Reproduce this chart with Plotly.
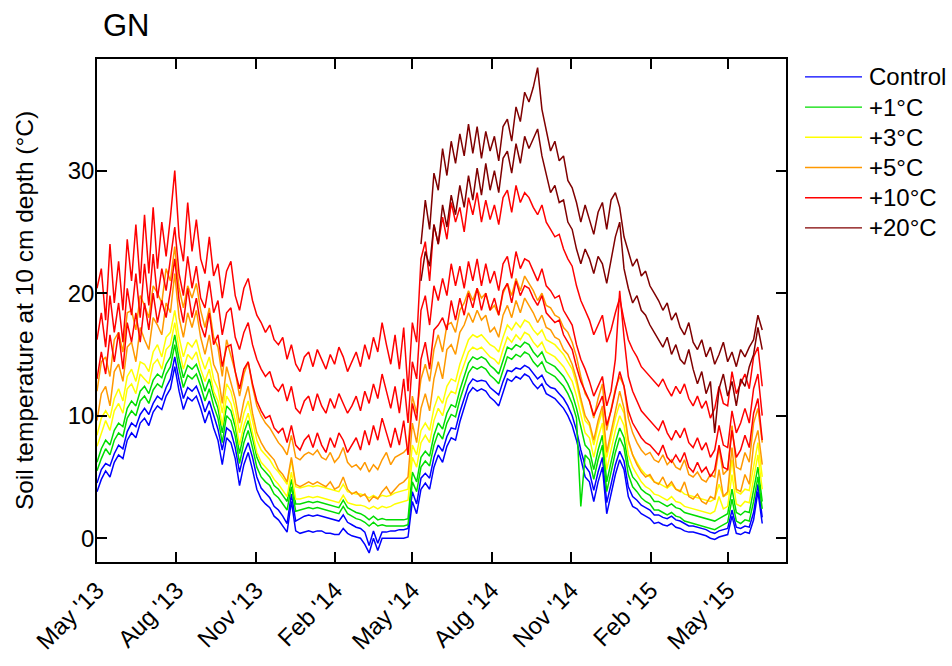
import pandas as pd
import plotly.graph_objects as go

# ---- time axis: one reading every 5 days ----
START_DATE = "2013-05-01"
STEP = "5D"
N_POINTS = 155

TICK_DATES = ["2013-05-01", "2013-08-01", "2013-11-01", "2014-02-01", "2014-05-01",
              "2014-08-01", "2014-11-01", "2015-02-01", "2015-05-01"]
TICK_TEXT = ["May '13", "Aug '13", "Nov '13", "Feb '14", "May '14",
             "Aug '14", "Nov '14", "Feb '15", "May '15"]
Y_TICKS = [0, 10, 20, 30]

# ---- soil temperature (°C) ----
control_a = [
    3.8, 4.8, 5.5, 5.0, 6.2, 6.8, 6.5, 8.0, 8.6, 8.2,
    9.4, 9.8, 9.2, 10.3, 10.8, 10.5, 11.6, 12.2, 14.0, 12.0,
    10.5, 11.5, 11.2, 11.6, 10.6, 9.4, 10.4, 9.0, 8.0, 6.0,
    8.2, 7.8, 6.5, 4.3, 6.0, 7.0, 5.6, 4.0, 3.2, 2.8,
    2.5, 1.8, 1.5, 1.0, 0.5, 3.0, 0.6, 0.4, 0.5, 0.6,
    0.5, 0.6, 0.6, 0.4, 0.4, 0.3, 0.3, 0.8, 0.4, 0.2,
    0.1, 0.0, -0.5, -1.2, 0.0, -1.0, 0.0, 0.0, 0.0, 0.0,
    0.0, 0.0, 0.1, 3.0, 2.0, 4.0, 4.5, 4.0, 5.8, 6.8,
    6.2, 7.5, 8.2, 8.0, 9.5, 10.6, 11.8, 12.3, 12.0, 12.2,
    12.0, 11.5, 11.2, 10.8, 12.0, 13.0, 12.8, 13.2, 13.0, 13.4,
    13.2, 12.6, 12.2, 12.6, 11.8, 11.6, 11.4, 11.0, 10.6, 10.0,
    9.2, 8.0, 6.4, 5.0, 4.6, 3.0, 4.6, 5.8, 2.0, 3.6,
    5.2, 6.4, 5.6, 3.4, 2.6, 2.4, 2.0, 1.8, 1.6, 1.2,
    1.3, 1.1, 1.0, 1.2, 0.9, 0.8, 0.6, 0.5, 0.5, 0.4,
    0.3, 0.2, 0.0, -0.1, 0.1, 0.2, 0.3, 1.8, 0.4, 0.3,
    0.5, 0.4, 1.5, 3.8, 1.2,
]
control_b = [
    4.5, 5.6, 6.1, 5.9, 6.9, 7.6, 7.3, 8.7, 9.4, 9.1,
    10.1, 10.6, 10.1, 11.0, 11.6, 11.3, 12.3, 13.0, 14.8, 12.9,
    11.4, 12.3, 12.0, 12.4, 11.5, 10.3, 11.2, 10.0, 8.9, 7.2,
    9.0, 8.7, 7.4, 5.4, 6.9, 7.8, 6.6, 5.0, 4.1, 3.7,
    3.3, 2.6, 2.3, 1.8, 1.2, 3.6, 1.4, 1.6, 1.8, 1.9,
    1.8, 1.9, 1.8, 1.7, 1.6, 1.5, 1.4, 1.9, 1.3, 1.1,
    0.9, 0.8, 0.5, -0.6, 0.6, -0.4, 0.5, 0.5, 0.6, 0.6,
    0.7, 0.7, 0.8, 3.8, 2.8, 4.9, 5.3, 4.9, 6.6, 7.6,
    7.1, 8.3, 9.0, 8.9, 10.3, 11.4, 12.5, 13.0, 12.8, 12.9,
    12.8, 12.3, 12.0, 11.7, 12.8, 13.7, 13.6, 13.9, 13.8, 14.1,
    13.9, 13.4, 13.0, 13.3, 12.6, 12.3, 12.2, 11.8, 11.4, 10.8,
    10.0, 8.8, 7.2, 5.9, 5.4, 3.9, 5.4, 6.6, 2.9, 4.4,
    6.0, 7.1, 6.3, 4.2, 3.4, 3.1, 2.7, 2.5, 2.3, 1.9,
    1.9, 1.7, 1.6, 1.8, 1.5, 1.4, 1.2, 1.0, 1.0, 0.9,
    0.8, 0.7, 0.5, 0.4, 0.6, 0.7, 0.8, 2.3, 0.9, 0.8,
    1.0, 0.9, 2.1, 4.4, 1.7,
]
plus1_a = [
    5.5, 6.5, 7.3, 6.8, 8.0, 8.6, 8.3, 9.8, 10.4, 10.0,
    11.2, 11.6, 11.0, 12.1, 12.6, 12.3, 13.4, 14.0, 15.8, 13.8,
    12.3, 13.3, 13.0, 13.4, 12.4, 11.2, 12.2, 10.8, 9.8, 7.8,
    10.0, 9.6, 8.3, 6.1, 7.8, 8.8, 7.4, 5.8, 5.0, 4.6,
    4.3, 3.6, 3.3, 2.8, 2.3, 4.2, 2.2, 2.3, 2.4, 2.5,
    2.4, 2.5, 2.4, 2.3, 2.2, 2.1, 2.0, 2.6, 2.0, 1.8,
    1.6, 1.5, 1.3, 1.0, 1.3, 1.0, 1.1, 1.0, 1.0, 1.0,
    1.0, 1.0, 1.1, 4.6, 3.8, 5.8, 6.3, 5.9, 7.6, 8.6,
    8.1, 9.4, 10.1, 9.9, 11.3, 12.4, 13.5, 14.0, 13.8, 14.0,
    13.8, 13.3, 13.0, 12.6, 13.8, 14.8, 14.6, 15.0, 14.8, 15.2,
    15.0, 14.4, 14.0, 14.4, 13.6, 13.4, 13.2, 12.8, 12.4, 11.8,
    11.0, 9.8, 2.6, 6.8, 6.4, 4.8, 6.4, 7.6, 3.8, 5.4,
    7.0, 8.2, 7.4, 5.2, 4.2, 3.8, 3.3, 3.0, 2.8, 2.3,
    2.3, 2.1, 1.9, 2.1, 1.8, 1.7, 1.4, 1.3, 1.2, 1.1,
    1.0, 0.9, 0.8, 0.7, 0.9, 1.1, 1.3, 3.2, 1.4, 1.2,
    1.5, 1.4, 3.0, 5.0, 2.4,
]
plus1_b = [
    6.2, 7.3, 8.0, 7.6, 8.8, 9.4, 9.1, 10.6, 11.2, 10.8,
    12.0, 12.4, 11.8, 12.9, 13.4, 13.1, 14.2, 14.8, 16.6, 14.6,
    13.1, 14.1, 13.8, 14.2, 13.2, 12.0, 13.0, 11.6, 10.6, 8.6,
    10.8, 10.4, 9.1, 6.9, 8.6, 9.6, 8.2, 6.6, 5.8, 5.4,
    5.0, 4.3, 4.0, 3.5, 3.0, 4.8, 2.8, 2.8, 2.9, 3.0,
    2.9, 3.0, 2.9, 2.8, 2.7, 2.6, 2.5, 3.1, 2.5, 2.3,
    2.1, 2.0, 1.8, 1.5, 1.8, 1.5, 1.6, 1.5, 1.5, 1.5,
    1.5, 1.5, 1.6, 5.4, 4.6, 6.6, 7.1, 6.7, 8.4, 9.4,
    8.9, 10.2, 10.9, 10.7, 12.1, 13.2, 14.3, 14.8, 14.6, 14.8,
    14.6, 14.1, 13.8, 13.4, 14.6, 15.6, 15.4, 15.8, 15.6, 16.0,
    15.8, 15.2, 14.8, 15.2, 14.4, 14.2, 14.0, 13.6, 13.2, 12.6,
    11.8, 10.6, 9.0, 7.6, 7.2, 5.6, 7.2, 8.4, 4.6, 6.2,
    7.8, 9.0, 8.2, 6.0, 5.0, 4.6, 4.0, 3.7, 3.5, 3.0,
    3.0, 2.8, 2.6, 2.8, 2.5, 2.4, 2.1, 2.0, 1.9, 1.8,
    1.7, 1.6, 1.5, 1.4, 1.6, 1.8, 2.0, 4.0, 2.1, 1.9,
    2.2, 2.1, 3.8, 5.8, 3.0,
]
plus3_a = [
    7.5, 8.6, 9.6, 8.8, 10.4, 11.0, 10.2, 12.2, 12.6, 11.8,
    13.4, 13.0, 12.6, 14.2, 14.6, 13.8, 15.4, 15.8, 17.6, 15.4,
    13.8, 15.0, 14.6, 15.2, 13.8, 12.8, 13.8, 12.0, 11.2, 9.2,
    11.6, 11.0, 9.6, 7.6, 9.2, 10.2, 8.6, 7.0, 6.2, 5.8,
    5.4, 4.8, 4.4, 3.9, 3.4, 5.4, 3.2, 3.2, 3.3, 3.4,
    3.3, 3.4, 3.3, 3.2, 3.1, 3.0, 2.9, 3.5, 2.9, 2.8,
    2.7, 2.7, 2.6, 2.4, 2.6, 2.4, 2.6, 2.5, 2.6, 2.8,
    2.9, 3.0, 3.1, 6.6, 5.8, 7.8, 8.4, 7.8, 9.6, 10.6,
    10.0, 11.4, 12.0, 11.8, 13.2, 14.2, 15.2, 15.6, 15.4, 15.6,
    15.2, 14.8, 14.6, 14.2, 15.4, 16.4, 16.0, 16.6, 16.2, 16.8,
    16.6, 16.0, 15.6, 16.0, 15.2, 15.0, 14.8, 14.4, 14.0, 13.4,
    12.8, 11.6, 10.0, 8.6, 8.2, 6.6, 8.2, 9.4, 5.6, 7.2,
    8.8, 10.0, 9.2, 6.8, 5.8, 5.2, 4.6, 4.2, 4.0, 3.6,
    3.5, 3.3, 3.1, 3.4, 3.0, 2.9, 2.6, 2.5, 2.4, 2.3,
    2.2, 2.1, 2.0, 2.2, 3.4, 2.4, 2.6, 5.2, 2.8, 2.6,
    3.0, 2.9, 5.0, 6.8, 4.0,
]
plus3_b = [
    8.4, 9.8, 10.4, 9.8, 11.4, 12.2, 11.2, 13.2, 13.8, 12.8,
    14.4, 14.2, 13.6, 15.2, 15.8, 14.8, 16.4, 16.8, 18.6, 16.4,
    14.8, 16.0, 15.6, 16.2, 14.8, 13.8, 14.8, 13.0, 12.2, 10.2,
    12.6, 12.0, 10.6, 8.6, 10.2, 11.2, 9.6, 8.0, 7.2, 6.8,
    6.4, 5.8, 5.4, 4.9, 4.4, 6.4, 4.2, 4.1, 4.2, 4.3,
    4.2, 4.3, 4.2, 4.1, 4.0, 3.9, 3.8, 4.4, 3.8, 3.7,
    3.6, 3.6, 3.5, 3.3, 3.5, 3.3, 3.5, 3.4, 3.5, 3.7,
    3.8, 3.9, 4.0, 7.6, 6.8, 8.8, 9.4, 8.8, 10.6, 11.6,
    11.0, 12.4, 13.0, 12.8, 14.2, 15.2, 16.2, 16.6, 16.4, 16.6,
    16.2, 15.8, 15.6, 15.2, 16.4, 17.4, 17.0, 17.6, 17.2, 17.8,
    17.6, 17.0, 16.6, 17.0, 16.2, 16.0, 15.8, 15.4, 15.0, 14.4,
    13.8, 12.6, 11.0, 9.6, 9.2, 7.6, 9.2, 10.4, 6.6, 8.2,
    9.8, 11.0, 10.2, 7.8, 6.8, 6.2, 5.6, 5.2, 5.0, 4.6,
    4.5, 4.3, 4.1, 4.4, 4.0, 3.9, 3.6, 3.5, 3.4, 3.3,
    3.2, 3.1, 3.0, 3.2, 4.4, 3.4, 3.6, 6.4, 3.8, 3.6,
    4.0, 3.9, 6.0, 7.8, 5.0,
]
plus5_a = [
    9.6, 11.8, 12.4, 10.8, 13.6, 14.2, 12.8, 15.6, 16.0, 14.4,
    17.2, 16.2, 15.4, 18.0, 17.4, 16.6, 19.2, 18.4, 21.6, 18.0,
    16.4, 18.4, 17.2, 18.6, 16.4, 15.0, 16.6, 14.2, 13.4, 11.0,
    14.0, 12.8, 11.4, 9.4, 11.2, 12.4, 10.2, 8.6, 7.8, 7.2,
    6.8, 6.4, 5.6, 5.2, 4.6, 6.6, 4.4, 4.2, 4.4, 4.6,
    4.4, 4.6, 4.4, 4.2, 4.6, 4.0, 4.2, 5.0, 4.0, 3.6,
    3.8, 3.4, 3.6, 3.0, 3.4, 3.2, 3.8, 4.2, 3.6, 4.0,
    4.4, 4.6, 5.0, 9.4, 7.8, 10.6, 11.8, 10.4, 13.0, 14.4,
    13.0, 15.4, 15.8, 15.0, 16.8, 17.4, 18.4, 17.6, 18.6, 17.8,
    18.2, 16.8, 17.2, 16.4, 18.2, 19.0, 18.0, 19.4, 18.4, 19.6,
    19.0, 18.4, 17.6, 18.2, 17.2, 17.0, 16.4, 16.2, 15.4, 15.0,
    14.2, 13.0, 11.4, 10.0, 9.4, 8.0, 9.6, 10.8, 7.0, 8.6,
    10.4, 12.0, 10.6, 8.0, 6.8, 6.0, 5.4, 5.0, 5.2, 4.6,
    4.4, 5.0, 4.2, 4.6, 4.0, 3.8, 4.6, 3.4, 3.2, 3.6,
    3.0, 2.8, 3.4, 3.2, 5.6, 3.4, 3.8, 7.4, 4.0, 3.8,
    5.2, 4.4, 7.6, 8.8, 6.0,
]
plus5_b = [
    12.0, 14.4, 14.8, 13.2, 16.2, 16.8, 15.2, 18.4, 18.6, 17.0,
    19.8, 19.0, 18.0, 20.6, 20.0, 19.2, 22.0, 21.0, 23.8, 20.4,
    18.8, 20.6, 19.6, 20.8, 18.6, 17.2, 18.8, 16.4, 15.6, 13.2,
    16.2, 15.0, 13.6, 11.6, 13.4, 14.4, 12.4, 10.8, 10.0, 9.4,
    9.0, 8.4, 7.8, 7.4, 6.8, 8.4, 6.6, 6.4, 6.8, 7.0,
    6.8, 7.2, 6.6, 6.4, 7.0, 6.2, 6.6, 7.4, 6.2, 5.8,
    6.0, 5.6, 6.2, 5.4, 6.0, 5.6, 6.4, 7.0, 6.0, 6.6,
    6.8, 7.0, 7.4, 11.6, 10.2, 13.0, 14.2, 12.8, 15.4, 16.6,
    15.2, 17.4, 17.6, 16.8, 18.6, 19.2, 20.2, 19.4, 20.4, 19.6,
    20.0, 18.6, 19.0, 18.2, 20.0, 20.8, 19.8, 21.2, 20.2, 21.4,
    20.8, 20.2, 19.4, 20.0, 19.0, 18.8, 18.2, 18.0, 17.2, 16.8,
    16.0, 14.8, 13.2, 11.8, 11.2, 9.8, 11.4, 12.6, 8.8, 10.4,
    12.2, 13.2, 12.4, 9.8, 8.6, 7.8, 7.2, 6.8, 7.0, 6.4,
    6.2, 6.8, 6.0, 6.4, 5.8, 5.6, 6.4, 5.2, 5.0, 5.4,
    4.8, 4.6, 5.2, 5.0, 7.4, 5.2, 5.6, 9.2, 5.8, 5.6,
    7.0, 6.2, 9.4, 10.6, 7.8,
]
plus10_a = [
    20.4, 22.0, 17.8, 24.0, 19.2, 22.6, 18.6, 24.4, 21.0, 25.6,
    20.8, 26.4, 21.6, 27.0, 22.0, 25.8, 23.0, 26.2, 30.0, 24.6,
    22.6, 27.4, 23.4, 26.0, 22.8, 21.6, 24.6, 21.4, 22.4, 19.6,
    21.8, 22.6, 19.8, 18.6, 20.4, 21.2, 19.4, 18.2, 17.6, 16.8,
    17.4, 16.2, 15.8, 16.4, 14.6, 15.8, 14.2, 13.6, 14.8, 15.2,
    14.0, 15.4, 14.6, 13.8, 15.0, 14.2, 15.6, 14.8, 13.6, 14.4,
    15.2, 14.0, 15.8, 14.6, 16.4, 15.2, 17.6, 15.8, 14.2, 16.6,
    13.8, 17.2, 12.0, 17.6, 16.0, 22.8, 24.2, 21.0, 25.6, 24.0,
    26.2, 24.4, 27.4, 25.8, 27.0, 25.0, 27.8, 26.4, 28.2, 25.8,
    27.6, 26.0, 27.2, 25.6, 27.8, 28.4, 26.6, 28.8, 27.4, 28.2,
    27.8, 27.0, 26.4, 27.2, 25.8, 25.2, 24.6, 24.8, 23.6, 22.8,
    22.2, 20.6, 19.4, 18.6, 17.8, 16.6, 17.4, 18.2, 16.0, 17.0,
    18.4, 19.6, 17.8, 16.2, 15.4, 14.8, 14.0, 13.6, 13.2, 12.8,
    12.4, 13.0, 12.2, 11.6, 12.4, 11.8, 12.6, 11.4, 10.8, 11.6,
    10.6, 11.2, 9.8, 10.6, 12.4, 11.0, 10.8, 13.6, 11.8, 12.6,
    13.4, 12.2, 14.8, 15.6, 12.4,
]
plus10_b = [
    16.2, 18.4, 15.6, 19.8, 16.8, 19.2, 16.0, 20.4, 18.2, 21.6,
    18.0, 22.4, 19.0, 23.2, 19.6, 22.0, 20.2, 22.8, 25.4, 21.6,
    19.8, 23.0, 20.4, 22.2, 19.6, 18.8, 21.0, 18.4, 19.4, 16.6,
    18.4, 18.8, 16.4, 15.4, 16.8, 17.6, 15.8, 14.6, 13.8, 13.2,
    13.6, 12.4, 12.0, 12.6, 11.2, 12.4, 10.6, 10.2, 11.2, 11.6,
    10.4, 11.8, 10.8, 10.2, 11.4, 10.6, 11.8, 11.0, 10.2, 10.8,
    11.6, 10.4, 12.0, 11.0, 12.6, 11.4, 13.4, 12.0, 10.6, 12.4,
    10.2, 13.0, 9.4, 14.4, 13.0, 18.6, 19.8, 17.4, 20.6, 19.4,
    21.2, 19.8, 22.4, 20.6, 22.2, 20.4, 22.6, 21.0, 22.8, 20.6,
    22.4, 20.8, 21.8, 20.2, 22.4, 23.0, 21.2, 23.4, 22.0, 22.8,
    22.6, 21.8, 21.0, 22.0, 20.6, 20.2, 19.6, 19.8, 18.6, 18.0,
    17.4, 15.8, 14.6, 13.8, 12.8, 11.6, 12.4, 13.2, 10.8, 12.0,
    14.6, 20.2, 16.4, 13.2, 12.0, 11.2, 10.4, 10.0, 9.6, 9.2,
    8.8, 9.6, 8.6, 8.0, 8.8, 8.2, 9.0, 7.8, 7.4, 8.2,
    7.2, 7.8, 6.6, 7.2, 9.2, 7.6, 7.4, 10.4, 8.6, 9.4,
    10.6, 9.4, 12.2, 13.4, 10.0,
]
plus10_c = [
    13.0, 15.2, 13.4, 16.6, 14.4, 16.8, 13.8, 17.6, 16.0, 18.4,
    16.0, 19.2, 17.0, 20.0, 17.6, 19.4, 18.0, 20.2, 22.8, 19.4,
    17.6, 20.4, 18.0, 19.6, 17.4, 16.4, 18.4, 15.8, 16.6, 14.0,
    15.6, 15.8, 13.6, 12.2, 13.8, 14.4, 12.6, 11.2, 10.4, 9.8,
    10.0, 9.0, 8.6, 9.0, 7.8, 9.2, 7.6, 7.2, 8.0, 8.4,
    7.4, 8.6, 7.6, 7.0, 8.2, 7.4, 8.6, 8.0, 7.0, 7.6,
    8.2, 7.2, 8.8, 7.6, 9.2, 8.0, 9.8, 8.6, 7.4, 9.0,
    7.6, 9.6, 6.8, 11.0, 9.6, 14.6, 16.0, 13.8, 17.0, 17.4,
    18.0, 17.0, 19.4, 17.8, 19.6, 18.2, 20.0, 18.8, 20.4, 18.6,
    20.0, 18.6, 19.6, 18.2, 20.2, 20.8, 19.2, 21.0, 19.8, 20.6,
    20.4, 19.6, 19.0, 19.8, 18.4, 18.0, 17.6, 17.8, 16.6, 16.0,
    15.4, 14.0, 12.8, 12.0, 11.2, 10.0, 10.8, 11.6, 9.2, 10.4,
    12.0, 13.6, 12.4, 10.4, 9.4, 8.8, 8.2, 7.8, 7.6, 7.2,
    6.8, 7.6, 6.6, 6.2, 6.8, 6.2, 7.0, 5.8, 5.4, 6.2,
    5.4, 5.8, 5.0, 5.6, 7.6, 5.8, 5.6, 8.8, 6.6, 7.2,
    8.4, 7.4, 10.2, 11.4, 8.0,
]
# +20 °C plots only started in May 2014 (first 75 readings absent)
plus20_a = [None] * 75 + [
    24.0, 27.6, 25.2, 29.8, 28.4,
    31.8, 29.6, 32.4, 30.6, 33.0, 31.2, 33.8, 31.4, 33.6, 31.0,
    33.2, 31.6, 32.8, 30.8, 33.6, 34.2, 32.4, 35.2, 34.0, 36.4,
    35.6, 36.8, 38.4, 35.0, 33.2, 31.6, 32.4, 30.8, 31.2, 29.2,
    28.6, 27.4, 25.8, 27.2, 26.0, 24.8, 26.6, 27.4, 25.2, 27.6,
    28.2, 27.0, 24.6, 23.4, 22.2, 22.8, 21.4, 21.8, 20.6, 20.0,
    19.4, 18.6, 19.2, 17.8, 18.4, 17.2, 16.6, 17.6, 16.0, 15.4,
    16.2, 14.8, 15.6, 14.2, 15.0, 16.0, 14.4, 15.2, 14.0, 15.4,
    14.8, 15.6, 16.2, 18.2, 17.0,
]
plus20_b = [None] * 75 + [
    21.0, 23.4, 22.2, 25.6, 24.0,
    27.2, 25.4, 28.0, 26.4, 28.8, 27.0, 29.6, 27.6, 30.2, 28.0,
    30.6, 28.4, 30.0, 28.2, 31.0, 31.6, 29.8, 32.2, 30.6, 32.8,
    31.8, 32.6, 33.4, 31.2, 29.6, 28.2, 28.8, 27.4, 27.6, 25.8,
    25.2, 23.6, 22.4, 23.6, 22.8, 21.6, 23.0, 22.4, 20.8, 22.6,
    24.6, 25.8, 22.0, 20.4, 19.2, 19.8, 18.6, 18.2, 17.4, 16.8,
    16.2, 15.6, 16.4, 15.0, 15.8, 14.6, 14.2, 15.4, 13.8, 12.6,
    13.6, 11.8, 12.8, 8.6, 12.2, 13.4, 11.6, 12.8, 10.8, 13.0,
    12.4, 14.0, 15.0, 17.2, 15.4,
]

treatments = ["Control", "+1°C", "+3°C", "+5°C", "+10°C", "+20°C"]
colors = ["#0000ff", "#00dd00", "#ffff00", "#ff9900", "#ff0000", "#800000"]
replicates = [
    [control_a, control_b],
    [plus1_a, plus1_b],
    [plus3_a, plus3_b],
    [plus5_a, plus5_b],
    [plus10_a, plus10_b, plus10_c],
    [plus20_a, plus20_b],
]

for reps in replicates:
    for r in reps:
        assert len(r) == N_POINTS, len(r)

dates = pd.date_range(START_DATE, periods=N_POINTS, freq=STEP)

FONT = "Liberation Sans, Arial, sans-serif"

fig = go.Figure()
for name, color, reps in zip(treatments, colors, replicates):
    for k, vals in enumerate(reps):
        fig.add_trace(go.Scatter(
            x=dates, y=vals, mode="lines", name=name, legendgroup=name,
            showlegend=False, line=dict(color=color, width=1.5),
        ))

axis_common = dict(
    showline=True, linecolor="black", linewidth=1.5, mirror="ticks",
    ticks="inside", ticklen=10, tickwidth=1.5, tickcolor="black",
    showgrid=False, zeroline=False,
)

# legend drawn beside the plot (long line samples as in the original)
legend_shapes = []
legend_notes = []
LEG_X0, LEG_X1, LEG_TXT = 1.0276, 1.1103, 1.117
LEG_Y_TOP, LEG_DY = 0.9646, 0.0601
for k, (name, color) in enumerate(zip(treatments, colors)):
    yk = LEG_Y_TOP - k * LEG_DY
    legend_shapes.append(dict(type="line", xref="paper", yref="paper",
                              x0=LEG_X0, x1=LEG_X1, y0=yk, y1=yk,
                              line=dict(color=color, width=1.3)))
    legend_notes.append(dict(text=name, xref="paper", yref="paper", x=LEG_TXT, y=yk,
                             xanchor="left", yanchor="middle", showarrow=False,
                             font=dict(family=FONT, size=24, color="black")))

fig.update_layout(
    width=952, height=666,
    margin=dict(l=97, r=166, t=59, b=97),
    paper_bgcolor="white", plot_bgcolor="white",
    font=dict(family=FONT, color="black"),
    showlegend=False,
    xaxis=dict(
        type="date", range=["2013-05-01", "2015-07-07 12:00"],
        tickvals=TICK_DATES, ticktext=TICK_TEXT, tickangle=-45,
        ticklabelstandoff=3,
        tickfont=dict(family=FONT, size=24, color="black"),
        **axis_common,
    ),
    yaxis=dict(
        range=[-1.94, 39.11], tickvals=Y_TICKS, ticklabelstandoff=-4,
        tickfont=dict(family=FONT, size=24, color="black"),
        title=dict(text="Soil temperature at 10 cm depth (°C)",
                   font=dict(family=FONT, size=24.5, color="black"), standoff=27),
        **axis_common,
    ),
    shapes=legend_shapes,
    annotations=[dict(
        text="GN", xref="paper", yref="paper", x=0.006, y=1.066,
        xanchor="left", yanchor="middle", showarrow=False,
        font=dict(family=FONT, size=31, color="black"),
    )] + legend_notes,
)

# page without the default 8px body margin so the 952x666 figure fills the window
fig.write_html(
    "out.html",
    config={"displayModeBar": False},
    post_script="document.body.style.margin='0';document.body.style.overflow='hidden';",
)
